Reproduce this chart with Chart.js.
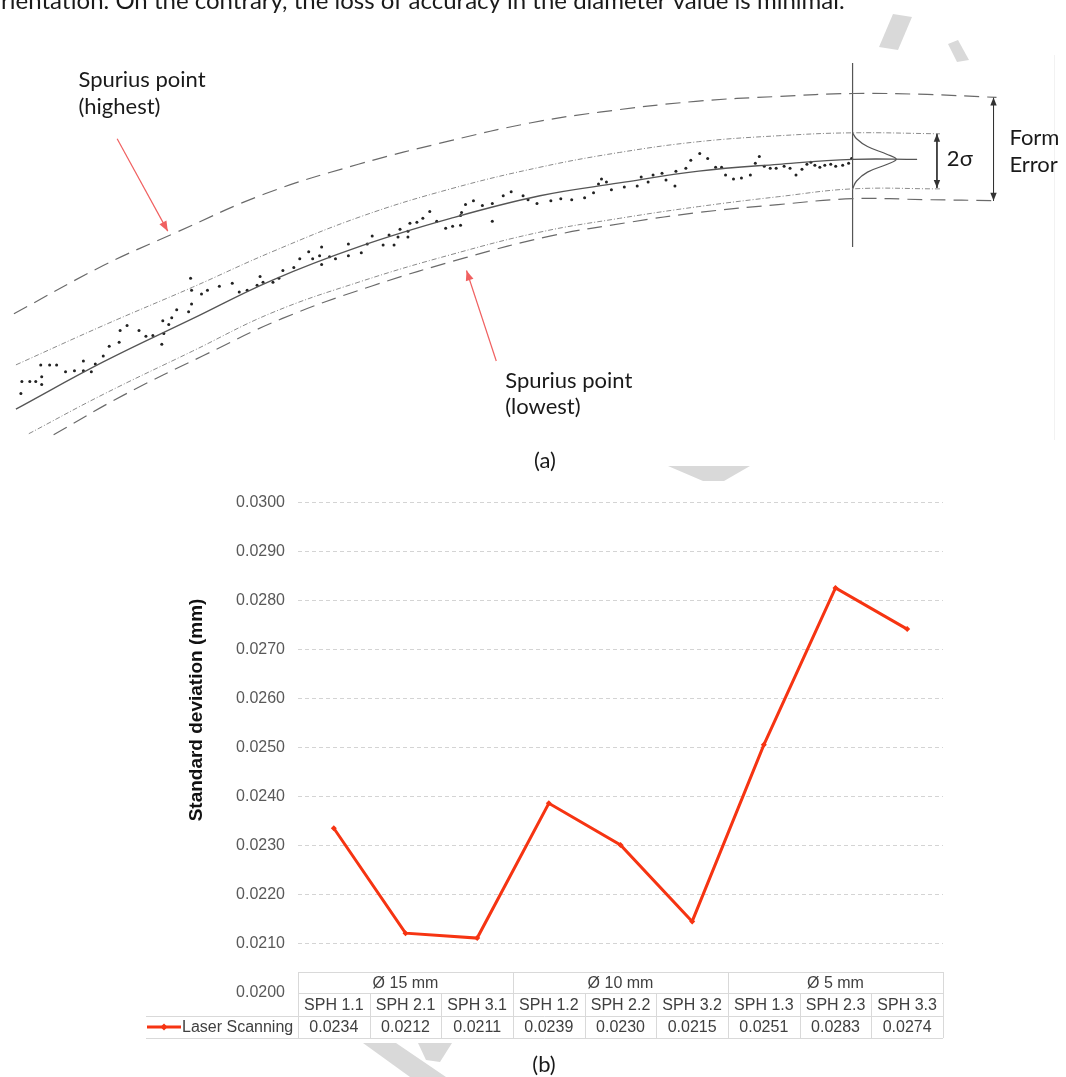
<!DOCTYPE html>
<html>
<head>
<meta charset="utf-8">
<script src="https://cdn.jsdelivr.net/npm/chart.js@4.4.1/dist/chart.umd.min.js"></script>
<style>
  html, body { margin: 0; padding: 0; background: #fff; }
  body { width: 1066px; height: 1077px; position: relative; overflow: hidden; }
  #diagram { position: absolute; left: 0; top: 0; }
  #chart { position: absolute; left: 0; top: 480px; }
  .edge { position: absolute; left: 1054px; top: 55px; width: 1px; height: 385px; background: #f2f2f2; }
</style>
</head>
<body>
<div class="edge"></div>
<canvas id="diagram" width="1066" height="480"></canvas>
<canvas id="chart" width="1066" height="597"></canvas>
<script>
"use strict";

// ---- (b) standard deviation per sphere ----
const spheres = ['SPH 1.1', 'SPH 2.1', 'SPH 3.1', 'SPH 1.2', 'SPH 2.2', 'SPH 3.2', 'SPH 1.3', 'SPH 2.3', 'SPH 3.3'];
const diameters = ['Ø 15 mm', 'Ø 10 mm', 'Ø 5 mm'];
const laserScanning = [0.02336, 0.02122, 0.02112, 0.02387, 0.02302, 0.02146, 0.02506, 0.02826, 0.02742];
const yTicksMin = 0.0200;
const yTicksMax = 0.0300;

const formUpper = [[10,315],[100,266],[172,233],[263,193],[357,163],[450,139],[530,121],[600,110],[697,99],[780,94],[855,91],[930,92],[1000,95]];
const sigmaUpper = [[12,367],[100,327],[190,288],[270,252],[360,216],[450,188],[540,166],[620,151],[700,140],[780,134],[855,131],[943,132]];
const meanLine = [[12,412],[100,364],[190,320],[270,281],[360,246],[450,218],[540,195],[620,182],[700,170],[780,163],[855,158],[920,158]];
const sigmaLower = [[25,437],[100,397],[190,353],[270,314],[360,282],[450,255],[540,232],[620,218],[700,206],[780,196],[855,188],[943,188]];
const formLower = [[50,438],[120,398],[200,358],[280,320],[370,287],[465,258],[550,236],[630,222],[700,212],[780,204],[855,198],[930,199],[1000,200]];
const measured = [
  [17,396],[18,384],[26,384],[32,384],[38,379],[38,387],[37,367],[46,367],[53,367],[62,374],[71,373],[80,363],[80,373],[88,374],[92,366],
  [100,358],[106,348],[116,344],[117,332],[124,327],[136,332],[143,338],[150,337],[159,346],[161,335],[160,322],[166,326],[169,319],[174,311],
  [186,313],[189,305],[188,279],[189,291],[199,295],[205,291],[217,287],[230,284],[237,293],[245,291],[255,286],[258,277],[261,283],[271,283],
  [277,279],[281,271],[292,268],[298,259],[307,252],[311,259],[318,256],[320,247],[320,265],[328,257],[334,259],[347,244],[347,256],[360,253],
  [366,244],[371,236],[382,245],[388,235],[393,245],[397,237],[399,229],[407,231],[407,237],[409,223],[416,222],[422,218],[429,211],[436,221],
  [445,228],[452,226],[460,225],[460,215],[461,212],[465,204],[473,200],[482,205],[492,203],[492,221],[503,195],[511,191],[523,195],[528,199],
  [537,203],[551,200],[561,198],[572,199],[585,197],[594,192],[599,183],[602,178],[607,181],[612,189],[625,186],[638,185],[642,176],[649,181],
  [654,174],[663,172],[667,179],[676,185],[677,170],[687,167],[692,159],[701,152],[709,157],[717,166],[723,166],[727,174],[735,178],[743,177],
  [752,174],[757,162],[761,155],[766,165],[772,167],[778,167],[786,165],[792,167],[798,174],[804,168],[809,163],[813,161],[817,164],[822,166],
  [827,164],[833,163],[838,165],[845,164],[851,162],[854,157]
];
const section = [[855,60],[855,247]];
const bell = [[855,131],[859,137],[870,145],[890,153],[899,158],[890,163],[870,171],[859,180],[855,188]];
const sigmaSpan = [[940,132],[940,187]];
const formSpan = [[997,95],[997,200]];
const pointerHigh = [[114,137],[165,231]];
const pointerLow = [[496,363],[466,271]];
const sketchLabels = [
  ['rientation. On the contrary, the loss of accuracy in the diameter value is minimal.', -3, 5, 'left', 24],
  ['Spurius point', 75, 84, 'left', 22],
  ['(highest)', 75, 112, 'left', 22],
  ['Spurius point', 505, 390, 'left', 22],
  ['(lowest)', 505, 417, 'left', 22],
  ['2σ', 950, 165, 'left', 22],
  ['Form', 1013, 143, 'left', 22],
  ['Error', 1013, 171, 'left', 22],
  ['(a)', 545, 472, 'center', 22]
];
// faint watermark fragments on the page (page pixels)
const watermark = [
  [[893,14],[912,17],[898,50],[879,47]],
  [[948,44],[958,40],[969,60],[957,62]],
  [[668,466],[750,466],[724,481],[703,481]],
  [[363,1043],[396,1043],[446,1077],[410,1077]],
  [[418,1043],[452,1043],[440,1062],[426,1060]]
];

const RED = 'rgb(246,52,18)';
const INK = '#555';
const TEXT_FAMILY = 'Lato, "Open Sans", sans-serif';
const XY = (arr) => arr.map(([x, y]) => ({ x, y }));

function watermarkPlugin(offsetY) {
  return {
    id: 'watermark',
    beforeDraw(chart) {
      const ctx = chart.ctx;
      ctx.save();
      ctx.fillStyle = '#d9d9d9';
      watermark.forEach((poly) => {
        ctx.beginPath();
        poly.forEach(([x, y], k) => (k ? ctx.lineTo(x, y - offsetY) : ctx.moveTo(x, y - offsetY)));
        ctx.closePath();
        ctx.fill();
      });
      ctx.restore();
    }
  };
}

const arrowPlugin = {
  id: 'arrows',
  afterDatasetsDraw(chart) {
    const ctx = chart.ctx;
    chart.data.datasets.forEach((ds, i) => {
      if (!ds.arrow) return;
      const pts = chart.getDatasetMeta(i).data;
      const n = pts.length;
      const heads = [[pts[n - 1], pts[n - 2]]];
      if (ds.arrow === 'both') heads.push([pts[0], pts[1]]);
      ctx.save();
      ctx.fillStyle = ds.borderColor;
      heads.forEach(([tip, from]) => {
        const a = Math.atan2(tip.y - from.y, tip.x - from.x);
        const len = ds.arrowSize || 8;
        const half = len * 0.4;
        const bx = tip.x - len * Math.cos(a), by = tip.y - len * Math.sin(a);
        ctx.beginPath();
        ctx.moveTo(tip.x, tip.y);
        ctx.lineTo(bx + half * Math.sin(a), by - half * Math.cos(a));
        ctx.lineTo(bx - half * Math.sin(a), by + half * Math.cos(a));
        ctx.closePath();
        ctx.fill();
      });
      ctx.restore();
    });
  }
};

const sketchText = {
  id: 'sketchText',
  afterDraw(chart) {
    const { ctx, scales } = chart;
    ctx.save();
    ctx.fillStyle = '#1a1a1a';
    ctx.textBaseline = 'alphabetic';
    sketchLabels.forEach(([t, x, y, align, size]) => {
      ctx.font = size + 'px ' + TEXT_FAMILY;
      ctx.textAlign = align;
      ctx.fillText(t, scales.x.getPixelForValue(x), scales.y.getPixelForValue(y));
    });
    ctx.restore();
  }
};

function curve(data, dash, color, width) {
  return {
    data: XY(data), showLine: true, pointRadius: 0, tension: 0.4,
    borderColor: color, borderWidth: width, borderDash: dash
  };
}

new Chart(document.getElementById('diagram'), {
  type: 'scatter',
  data: {
    datasets: [
      curve(formUpper, [15, 8], '#6a6a6a', 1.2),
      curve(sigmaUpper, [5, 2, 1, 2], '#8a8a8a', 1),
      curve(meanLine, [], INK, 1.3),
      curve(sigmaLower, [5, 2, 1, 2], '#8a8a8a', 1),
      curve(formLower, [15, 8], '#6a6a6a', 1.2),
      curve(bell, [], INK, 1.2),
      { data: XY(section), showLine: true, pointRadius: 0, borderColor: INK, borderWidth: 1.2 },
      { data: XY(sigmaSpan), showLine: true, pointRadius: 0, borderColor: '#333', borderWidth: 1, arrow: 'both', arrowSize: 8 },
      { data: XY(formSpan), showLine: true, pointRadius: 0, borderColor: '#333', borderWidth: 1, arrow: 'both', arrowSize: 8 },
      { data: XY(pointerHigh), showLine: true, pointRadius: 0, borderColor: '#f06060', borderWidth: 1.2, arrow: 'end', arrowSize: 10 },
      { data: XY(pointerLow), showLine: true, pointRadius: 0, borderColor: '#f06060', borderWidth: 1.2, arrow: 'end', arrowSize: 10 },
      { data: XY(measured), showLine: false, pointRadius: 1.5, pointBorderWidth: 0, backgroundColor: '#222' }
    ]
  },
  options: {
    responsive: false, animation: false, events: [],
    layout: { padding: 0 },
    plugins: { legend: { display: false }, tooltip: { enabled: false } },
    scales: {
      x: { type: 'linear', min: 0, max: 1066, display: false },
      y: { type: 'linear', min: 0, max: 480, reverse: true, display: false }
    }
  },
  plugins: [watermarkPlugin(0), arrowPlugin, sketchText]
});

// data table under the plot, y title and "(b)" caption
const tablePlugin = {
  id: 'dataTable',
  afterDraw(chart) {
    const { ctx, chartArea } = chart;
    const { left, right, bottom } = chartArea;
    const colW = (right - left) / spheres.length;
    const headTop = bottom - 21, row2 = bottom + 23, row3 = bottom + 45;
    const legendLeft = 146;
    ctx.save();
    ctx.strokeStyle = '#d9d9d9';
    ctx.lineWidth = 1;
    const hline = (x0, x1, y) => { ctx.beginPath(); ctx.moveTo(x0, y + 0.5); ctx.lineTo(x1, y + 0.5); ctx.stroke(); };
    const vline = (x, y0, y1) => { ctx.beginPath(); ctx.moveTo(Math.round(x) + 0.5, y0); ctx.lineTo(Math.round(x) + 0.5, y1); ctx.stroke(); };
    ctx.fillStyle = '#fff';
    ctx.fillRect(left, headTop, right - left, row3 - headTop);
    hline(left, right, headTop);
    hline(left, right, bottom);
    hline(legendLeft, right, row2);
    hline(legendLeft, right, row3);
    for (let i = 0; i <= spheres.length; i++) {
      const x = left + i * colW;
      if (i % 3 === 0) vline(x, headTop, row3); else vline(x, bottom, row3);
    }
    ctx.fillStyle = '#404040';
    ctx.font = '16px "Liberation Sans", Arial, sans-serif';
    ctx.textAlign = 'center';
    ctx.textBaseline = 'middle';
    diameters.forEach((d, g) => {
      ctx.fillText(d, left + (g * 3 + 1.5) * colW, (headTop + bottom) / 2 + 1);
    });
    spheres.forEach((s, i) => {
      const cx = left + (i + 0.5) * colW;
      ctx.fillText(s, cx, (bottom + row2) / 2 + 1);
      ctx.fillText(laserScanning[i].toFixed(4), cx, (row2 + row3) / 2 + 1);
    });
    // legend key
    const ly = (row2 + row3) / 2;
    ctx.strokeStyle = RED;
    ctx.lineWidth = 3;
    ctx.beginPath(); ctx.moveTo(147, ly); ctx.lineTo(181, ly); ctx.stroke();
    ctx.fillStyle = RED;
    ctx.beginPath(); ctx.moveTo(164, ly - 3.5); ctx.lineTo(167.5, ly); ctx.lineTo(164, ly + 3.5); ctx.lineTo(160.5, ly); ctx.closePath(); ctx.fill();
    ctx.fillStyle = '#404040';
    ctx.textAlign = 'left';
    ctx.fillText('Laser Scanning', 182, ly + 1);
    // y axis title
    ctx.save();
    ctx.translate(197, 230);
    ctx.rotate(-Math.PI / 2);
    ctx.font = 'bold 19px "Liberation Sans", Arial, sans-serif';
    ctx.fillStyle = '#111';
    ctx.textAlign = 'center';
    ctx.fillText('Standard deviation (mm)', 0, 0);
    ctx.restore();
    // caption
    ctx.font = '22px ' + TEXT_FAMILY;
    ctx.fillStyle = '#1a1a1a';
    ctx.textAlign = 'center';
    ctx.textBaseline = 'alphabetic';
    ctx.fillText('(b)', 544, 592);
    ctx.restore();
  }
};

new Chart(document.getElementById('chart'), {
  type: 'line',
  data: {
    labels: spheres,
    datasets: [{
      label: 'Laser Scanning',
      data: laserScanning,
      borderColor: RED,
      backgroundColor: RED,
      borderWidth: 3,
      pointStyle: 'rectRot',
      pointRadius: 3,
      pointBorderWidth: 0,
      tension: 0
    }]
  },
  options: {
    responsive: false, animation: false, events: [],
    layout: { padding: { left: 0, right: 123, top: 18, bottom: 84 } },
    plugins: { legend: { display: false }, tooltip: { enabled: false } },
    scales: {
      x: { type: 'category', offset: true, display: false },
      y: {
        min: yTicksMin, max: yTicksMax,
        afterFit: (s) => { s.width = 298; },
        border: { display: false, dash: [4, 3] },
        grid: { drawTicks: false, color: '#d4d4d4', lineWidth: 1 },
        ticks: {
          stepSize: 0.001, padding: 13, color: '#595959',
          font: { family: '"Liberation Sans", Arial, sans-serif', size: 16 },
          callback: (v) => Number(v).toFixed(4)
        }
      }
    }
  },
  plugins: [watermarkPlugin(480), tablePlugin]
});
</script>
</body>
</html>
